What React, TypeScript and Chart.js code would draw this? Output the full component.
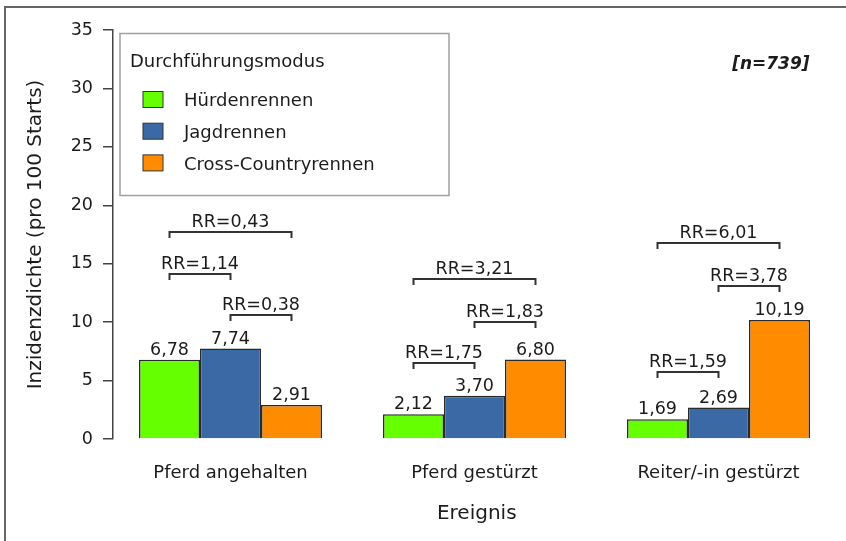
import React, { useEffect, useRef } from 'react';
import { Chart, registerables } from 'chart.js';

Chart.register(...registerables);

// ---------- data ----------
const categories = ['Pferd angehalten', 'Pferd gestürzt', 'Reiter/-in gestürzt'];
const seriesNames = ['Hürdenrennen', 'Jagdrennen', 'Cross-Countryrennen'];
const huerdenValues = [6.78, 2.12, 1.69];
const jagdValues = [7.74, 3.7, 2.69];
const crossValues = [2.91, 6.8, 10.19];
const seriesColors = ['#66ff00', '#3a69a5', '#ff8c00'];
const yTickValues = [0, 5, 10, 15, 20, 25, 30, 35];
const legendTitle = 'Durchführungsmodus';
const sampleNote = '[n=739]';
const xTitle = 'Ereignis';
const yTitle = 'Inzidenzdichte (pro 100 Starts)';

// rate-ratio brackets: category index, from series, to series, bracket height, RR value
const rrCategory = [0, 0, 0, 1, 1, 1, 2, 2, 2];
const rrFrom = [0, 0, 1, 0, 1, 0, 0, 1, 0];
const rrTo = [2, 1, 2, 2, 2, 1, 2, 2, 1];
const rrLevel = [17.7, 14.1, 10.65, 13.65, 10.05, 6.5, 16.75, 13.1, 5.7];
const rrValue = [0.43, 1.14, 0.38, 3.21, 1.83, 1.75, 6.01, 3.78, 1.59];

const seriesValues = [huerdenValues, jagdValues, crossValues];
const FONT = '"DejaVu Sans", "Liberation Sans", sans-serif';
const TEXT = '#1c1c1c';
const fmt = (v: number) => v.toFixed(2).replace('.', ',');

const annotationsPlugin = {
  id: 'annotations',
  afterDatasetsDraw(chart: any) {
    const { ctx, scales } = chart;
    ctx.save();
    // value labels
    ctx.font = `17.5px ${FONT}`;
    ctx.fillStyle = TEXT;
    ctx.textAlign = 'center';
    ctx.textBaseline = 'alphabetic';
    chart.data.datasets.forEach((ds: any, di: number) => {
      const meta = chart.getDatasetMeta(di);
      meta.data.forEach((el: any, i: number) => {
        ctx.fillText(fmt(seriesValues[di][i]), el.x, el.y - 5);
      });
    });
    // RR brackets
    ctx.strokeStyle = '#333333';
    ctx.lineWidth = 2;
    rrCategory.forEach((c, k) => {
      const x1 = chart.getDatasetMeta(rrFrom[k]).data[c].x;
      const x2 = chart.getDatasetMeta(rrTo[k]).data[c].x;
      const y = Math.round(scales.y.getPixelForValue(rrLevel[k]));
      ctx.beginPath();
      ctx.moveTo(x1, y + 6);
      ctx.lineTo(x1, y);
      ctx.lineTo(x2, y);
      ctx.lineTo(x2, y + 6);
      ctx.stroke();
      ctx.fillText('RR=' + fmt(rrValue[k]), (x1 + x2) / 2, y - 5);
    });
    ctx.restore();
  },
  afterDraw(chart: any) {
    const { ctx, chartArea } = chart;
    ctx.save();
    // legend box
    const x0 = chartArea.left + 7;
    const y0 = chartArea.top + 3.5;
    const w = 329;
    const h = 162;
    ctx.fillStyle = '#ffffff';
    ctx.fillRect(x0, y0, w, h);
    ctx.strokeStyle = '#a0a0a0';
    ctx.lineWidth = 1.5;
    ctx.strokeRect(x0, y0, w, h);
    ctx.fillStyle = TEXT;
    ctx.font = `18px ${FONT}`;
    ctx.textAlign = 'left';
    ctx.textBaseline = 'middle';
    ctx.fillText(legendTitle, x0 + 10, y0 + 29);
    chart.data.datasets.forEach((ds: any, i: number) => {
      const cy = y0 + 66 + i * 31.7;
      ctx.fillStyle = ds.backgroundColor;
      ctx.fillRect(x0 + 23, cy - 8, 20, 16);
      ctx.strokeStyle = '#333333';
      ctx.lineWidth = 1;
      ctx.strokeRect(x0 + 23, cy - 8, 20, 16);
      ctx.fillStyle = TEXT;
      ctx.fillText(ds.label, x0 + 64, cy + 2);
    });
    // sample size note
    ctx.font = `italic bold 17px ${FONT}`;
    ctx.textAlign = 'right';
    ctx.fillText(sampleNote, chartArea.right - 31, chartArea.top + 35);
    ctx.restore();
  },
};

export default function App() {
  const ref = useRef<HTMLCanvasElement | null>(null);

  useEffect(() => {
    document.body.style.margin = '0';
    const canvas = ref.current;
    if (!canvas) return;
    const chart = new Chart(canvas, {
      type: 'bar',
      data: {
        datasets: seriesNames.map((name, i) => ({
          label: name,
          data: seriesValues[i].map((v, j) => ({ x: j + 1, y: v })),
          backgroundColor: seriesColors[i],
          borderColor: '#2a2a2a',
          borderWidth: 1.5,
          categoryPercentage: 0.75,
          barPercentage: 1,
        })),
      },
      options: {
        responsive: false,
        animation: false,
        devicePixelRatio: 1,
        layout: { padding: { top: 30, right: 5.5, bottom: 0, left: 0 } },
        plugins: {
          legend: { display: false },
          tooltip: { enabled: false },
        },
        scales: {
          x: {
            type: 'linear',
            offset: false,
            min: 1 - 117.5 / 244,
            max: 3.5,
            grid: { display: false },
            border: { display: false },
            afterBuildTicks: (scale: any) => {
              scale.ticks = categories.map((_, i) => ({ value: i + 1 }));
            },
            afterFit: (scale: any) => {
              scale.height = 102;
            },
            ticks: {
              autoSkip: false,
              maxRotation: 0,
              padding: 16,
              color: TEXT,
              font: { family: FONT, size: 18 },
              callback: (v: any) => categories[Math.round(Number(v)) - 1] ?? '',
            },
            title: {
              display: true,
              text: xTitle,
              color: TEXT,
              font: { family: FONT, size: 20 },
              padding: { top: 0, bottom: 15 },
            },
          },
          y: {
            type: 'linear',
            min: 0,
            max: 35,
            afterBuildTicks: (scale: any) => {
              scale.ticks = yTickValues.map((v) => ({ value: v }));
            },
            afterFit: (scale: any) => {
              scale.width = 113;
            },
            grid: {
              drawOnChartArea: false,
              drawTicks: true,
              tickLength: 10,
              tickColor: '#444444',
              lineWidth: 1.5,
            },
            border: { display: true, color: '#444444', width: 1.5 },
            ticks: {
              padding: 10,
              color: TEXT,
              font: { family: FONT, size: 17.5 },
            },
            title: {
              display: true,
              text: yTitle,
              color: TEXT,
              font: { family: FONT, size: 20 },
              padding: { top: 24, bottom: 0 },
            },
          },
        },
      } as any,
      plugins: [annotationsPlugin],
    });
    return () => chart.destroy();
  }, []);

  return (
    <div style={{ position: 'relative', width: 846, height: 541, background: '#ffffff', overflow: 'hidden' }}>
      <canvas ref={ref} width={846} height={541} style={{ display: 'block', width: 846, height: 541 }} />
      <div
        style={{
          position: 'absolute',
          left: 4,
          top: 6,
          right: -10,
          bottom: -10,
          borderTop: '2px solid #666666',
          borderLeft: '2px solid #666666',
          pointerEvents: 'none',
        }}
      />
    </div>
  );
}
